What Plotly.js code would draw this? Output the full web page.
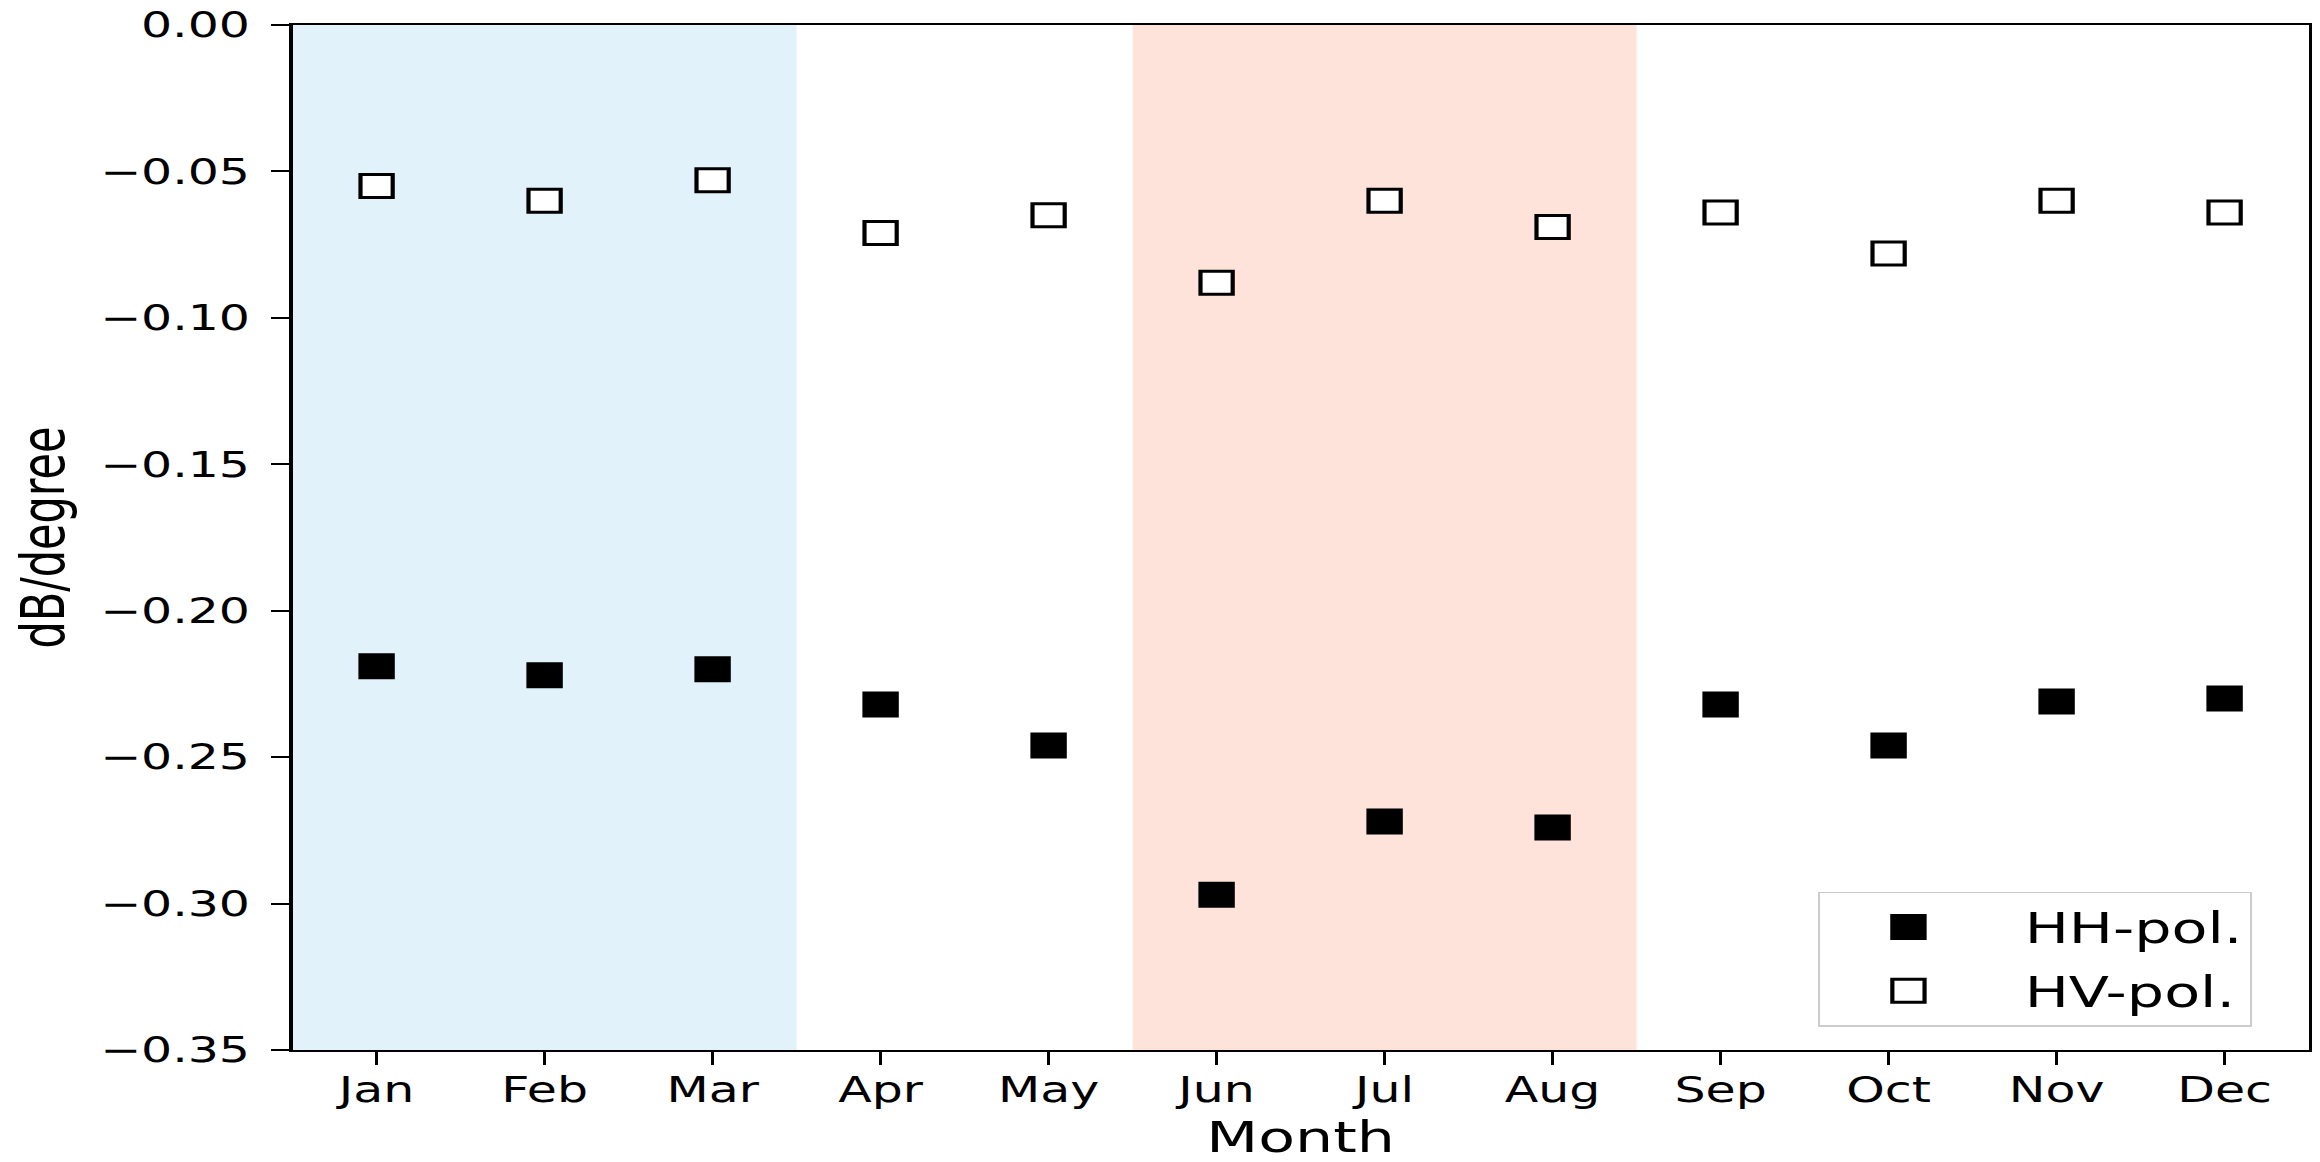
<!DOCTYPE html>
<html>
<head>
<meta charset="utf-8">
<script src="https://cdn.plot.ly/plotly-3.0.1.min.js"></script>
<style>
  html, body { margin: 0; padding: 0; background: #ffffff; overflow: hidden; }
  #wrap { width: 2320px; height: 1162px; overflow: hidden; }
  /* the figure is laid out narrower and stretched horizontally */
  #chart { width: 1657px; height: 1162px; transform: scaleX(1.4); transform-origin: 0 0; }
</style>
</head>
<body>
<div id="wrap"><div id="chart"></div></div>
<script>
// Monthly backscatter sensitivity (dB per degree of incidence angle)
const months = ['Jan', 'Feb', 'Mar', 'Apr', 'May', 'Jun', 'Jul', 'Aug', 'Sep', 'Oct', 'Nov', 'Dec'];
const hhPol = [-0.219, -0.222, -0.220, -0.232, -0.246, -0.297, -0.272, -0.274, -0.232, -0.246, -0.231, -0.230];
const hvPol = [-0.055, -0.060, -0.053, -0.071, -0.065, -0.088, -0.060, -0.069, -0.064, -0.078, -0.060, -0.064];

// Seasonal bands, in month-index units
const winterSpan = [-0.5, 2.5];
const summerSpan = [4.5, 7.5];

const FONT = 'DejaVu Sans, Verdana, sans-serif';
const MARKER_SIZE = 23;

const traces = [
  {
    x: months, y: hhPol, type: 'scatter', mode: 'markers', name: 'HH-pol.',
    legendgroup: 'hh',
    marker: { symbol: 'square', size: MARKER_SIZE, color: '#000000', line: { color: '#000000', width: 3 } }
  },
  {
    x: months, y: hvPol, type: 'scatter', mode: 'markers', name: 'HV-pol.',
    legendgroup: 'hv',
    marker: { symbol: 'square', size: MARKER_SIZE, color: '#ffffff', line: { color: '#000000', width: 3 } }
  }
];

const axisCommon = {
  showline: true, linecolor: '#000000', linewidth: 2.4, mirror: true,
  ticks: 'outside', ticklen: 13, tickwidth: 2, tickcolor: '#000000',
  showgrid: false, zeroline: false, automargin: false,
  tickfont: { family: FONT, size: 35, color: '#000000' }
};

const layout = {
  width: 1657, height: 1162,
  margin: { l: 209, r: 8, t: 25, b: 112 },
  paper_bgcolor: '#ffffff', plot_bgcolor: '#ffffff',
  showlegend: true,
  xaxis: Object.assign({}, axisCommon, {
    type: 'category', categoryarray: months, range: [-0.5, 11.5],
    ticklabelstandoff: -5,
    title: { text: 'Month', font: { family: FONT, size: 43, color: '#000000' }, standoff: 19 }
  }),
  yaxis: Object.assign({}, axisCommon, {
    range: [-0.35, 0], tick0: 0, dtick: 0.05, tickformat: '.2f',
    ticklabelstandoff: 8,
    title: { text: 'dB/degree', font: { family: FONT, size: 43, color: '#000000' }, standoff: 12 }
  }),
  shapes: [
    { type: 'rect', xref: 'x', yref: 'paper', x0: winterSpan[0], x1: winterSpan[1], y0: 0, y1: 1,
      fillcolor: '#e1f2fa', line: { width: 0 }, layer: 'below' },
    { type: 'rect', xref: 'x', yref: 'paper', x0: summerSpan[0], x1: summerSpan[1], y0: 0, y1: 1,
      fillcolor: '#fde3d9', line: { width: 0 }, layer: 'below' }
  ],
  legend: {
    x: 0.972, xanchor: 'right', y: 0.0227, yanchor: 'bottom',
    bgcolor: 'rgba(255,255,255,0.85)', bordercolor: '#cccccc', borderwidth: 1.5,
    font: { family: FONT, size: 42, color: '#000000' },
    itemwidth: 136, traceorder: 'grouped', tracegroupgap: 6
  }
};

const gd = document.getElementById('chart');
Plotly.newPlot(gd, traces, layout, { staticPlot: true, displayModeBar: false }).then(function () {
  // legend swatches at the same size as the plotted markers, set a little left of centre
  const r = MARKER_SIZE / 2;
  const dx = -10;
  gd.querySelectorAll('.legend .legendpoints path.scatterpts').forEach(function (p) {
    p.setAttribute('d', 'M' + (r + dx) + ',' + r + 'H' + (-r + dx) + 'V-' + r + 'H' + (r + dx) + 'Z');
  });
});
</script>
</body>
</html>
